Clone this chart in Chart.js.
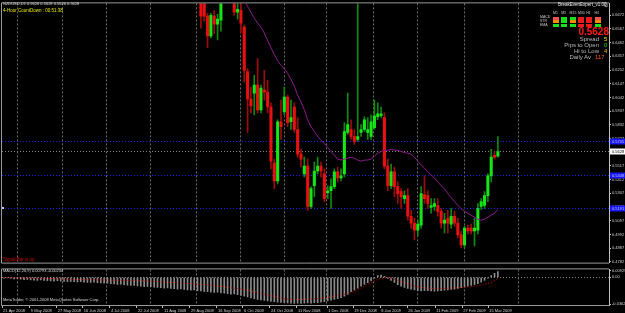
<!DOCTYPE html>
<html>
<head>
<meta charset="utf-8">
<script src="https://cdn.jsdelivr.net/npm/chart.js@4.4.1/dist/chart.umd.min.js"></script>
<style>
  html, body { margin: 0; padding: 0; background: #000; }
  body { width: 625px; height: 313px; overflow: hidden; position: relative; font-family: 'Liberation Sans', Arial, sans-serif; }
  .pane { position: absolute; left: 0; width: 625px; }
  .t { position: absolute; white-space: nowrap; line-height: 1; }
  .cell { position: absolute; width: 6px; height: 3px; }
</style>
</head>
<body>
<div class="pane" style="top:0;height:266px"><canvas id="price"></canvas></div>
<div class="pane" style="top:266px;height:47px"><canvas id="macd"></canvas></div>

<div class="t" style="left:3px;top:2px;font-size:4px;color:#d8d8d8">NZDUSD,D1 0.5626 0.5628 0.5626 0.5628</div>
<div class="t" style="left:3px;top:9px;font-size:4.5px;color:#e6e600">4-Hour CountDown : 00:51:38</div>
<div class="t" style="left:3px;top:258px;font-size:4.5px;color:#d00000">Signal Bar is up</div>
<div class="t" style="left:3px;top:269px;font-size:4px;color:#d8d8d8">MACD(12,26,9) 0.00793 -0.00234</div>
<div class="t" style="left:3px;top:298px;font-size:4px;color:#d8d8d8">MetaTrader, © 2001-2008 MetaQuotes Software Corp.</div>

<div class="t" style="left:558px;top:3px;font-size:4.5px;color:#e8e8e8">BreakEvenExpert_v1.00</div>
<div class="t" style="left:603px;top:2px;font-size:6px;color:#e8e8e8">☺</div>
<div id="panel"></div>
<div class="t" style="right:16px;top:27px;font-size:10px;font-weight:bold;color:#ff1a1a">0.5628</div>
<div class="t" style="right:26px;top:36px;font-size:6px;color:#b8b8b8">Spread</div>
<div class="t" style="left:604px;top:36px;font-size:6px;color:#e6e600">5</div>
<div class="t" style="right:26px;top:42px;font-size:6px;color:#b8b8b8">Pips to Open</div>
<div class="t" style="left:604px;top:42px;font-size:6px;color:#20e020">0</div>
<div class="t" style="right:26px;top:48px;font-size:6px;color:#b8b8b8">Hi to Low</div>
<div class="t" style="left:604px;top:48px;font-size:6px;color:#e6c000">4</div>
<div class="t" style="right:34px;top:54px;font-size:6px;color:#b8b8b8">Daily Av</div>
<div class="t" style="left:595px;top:54px;font-size:6px;color:#ff5a10">117</div>

<script>
// daily candles, index 0 = first bar visible at top of chart
const opens  = [0.6816,0.6763,0.6665,0.6513,0.6665,0.6604,0.6634,0.6793,0.6860,0.6830,
                0.6800,0.6695,0.6710,0.6581,0.6241,0.6030,0.6075,0.6136,0.5947,0.6098,
                0.6083,0.5969,0.5539,0.5403,0.5856,0.5932,0.6045,0.5856,0.5969,0.5796,
                0.5607,0.5456,0.5516,0.5207,0.5365,0.5478,0.5516,0.5456,0.5312,0.5327,
                0.5358,0.5471,0.5426,0.5456,0.5773,0.5796,0.5743,0.5720,0.5773,0.5796,
                0.5773,0.5743,0.5811,0.5894,0.5902,0.5887,0.5516,0.5365,0.5471,0.5358,
                0.5320,0.5267,0.5289,0.5131,0.5078,0.5025,0.5063,0.5297,0.5289,0.5199,
                0.5207,0.5214,0.5169,0.5078,0.5116,0.5071,0.5131,0.5078,0.4988,0.4912,
                0.5040,0.5040,0.5018,0.5025,0.5207,0.5214,0.5289,0.5441,0.5599,0.5592];
const highs  = [0.6853,0.6816,0.6687,0.6687,0.6710,0.6680,0.6853,0.6890,0.6900,0.6870,
                0.6838,0.6778,0.6778,0.6597,0.6264,0.6121,0.6211,0.6340,0.6136,0.6249,
                0.6173,0.6000,0.5569,0.5871,0.6022,0.6121,0.6060,0.6022,0.6000,0.5887,
                0.5645,0.5584,0.5569,0.5358,0.5546,0.5584,0.5546,0.5494,0.5365,0.5418,
                0.5494,0.5509,0.5494,0.5849,0.6075,0.5871,0.5796,0.6816,0.5834,0.5894,
                0.5887,0.5909,0.6022,0.6000,0.5969,0.5924,0.5569,0.5531,0.5509,0.5395,
                0.5343,0.5327,0.5343,0.5176,0.5116,0.5101,0.5358,0.5441,0.5327,0.5267,
                0.5267,0.5267,0.5191,0.5154,0.5176,0.5191,0.5169,0.5116,0.5018,0.5055,
                0.5063,0.5071,0.5116,0.5229,0.5267,0.5320,0.5456,0.5645,0.5628,0.5743];
const lows   = [0.6574,0.6627,0.6423,0.6498,0.6529,0.6483,0.6551,0.6790,0.6800,0.6790,
                0.6672,0.6642,0.6536,0.6158,0.5773,0.5924,0.5909,0.5924,0.5924,0.6022,
                0.5924,0.5494,0.5343,0.5380,0.5720,0.5909,0.5818,0.5796,0.5773,0.5584,
                0.5509,0.5433,0.5176,0.5191,0.5282,0.5456,0.5433,0.5244,0.5267,0.5191,
                0.5343,0.5395,0.5403,0.5433,0.5758,0.5720,0.5682,0.5705,0.5743,0.5781,
                0.5720,0.5720,0.5796,0.5871,0.5887,0.5494,0.5327,0.5343,0.5282,0.5229,
                0.5191,0.5229,0.5101,0.5040,0.4950,0.4980,0.5040,0.5229,0.5191,0.5154,
                0.5176,0.5131,0.5040,0.5003,0.5003,0.5040,0.5055,0.4965,0.4889,0.4889,
                0.4995,0.4995,0.4904,0.4995,0.5184,0.5191,0.5244,0.5395,0.5569,0.5584];
const closes = [0.6665,0.6665,0.6513,0.6672,0.6604,0.6642,0.6793,0.6860,0.6830,0.6805,
                0.6695,0.6717,0.6612,0.6249,0.6030,0.5977,0.6136,0.5947,0.6113,0.6083,
                0.5969,0.5554,0.5403,0.5856,0.5818,0.6045,0.5849,0.5887,0.5796,0.5607,
                0.5569,0.5516,0.5207,0.5343,0.5478,0.5516,0.5478,0.5267,0.5327,0.5358,
                0.5471,0.5426,0.5441,0.5781,0.5834,0.5743,0.5705,0.5743,0.5796,0.5871,
                0.5796,0.5856,0.5902,0.5917,0.5917,0.5516,0.5365,0.5471,0.5358,0.5305,
                0.5282,0.5289,0.5131,0.5078,0.5025,0.5071,0.5305,0.5267,0.5229,0.5214,
                0.5229,0.5169,0.5078,0.5101,0.5078,0.5131,0.5078,0.4988,0.4912,0.5040,
                0.5018,0.5018,0.5040,0.5191,0.5244,0.5289,0.5441,0.5584,0.5584,0.5628];
// moving average (null where it is above the window)
const maLine = [null,null,null,null,null,null,null,null,null,null,
                null,0.6884,0.6838,0.6793,0.6740,0.6695,0.6649,0.6612,0.6581,0.6536,
                0.6476,0.6423,0.6370,0.6325,0.6287,0.6264,0.6226,0.6181,0.6128,0.6060,
                0.6007,0.5947,0.5871,0.5818,0.5781,0.5743,0.5713,0.5690,0.5660,0.5628,
                0.5599,0.5569,0.5562,0.5569,0.5577,0.5584,0.5577,0.5562,0.5554,0.5562,
                0.5562,0.5569,0.5592,0.5614,0.5628,0.5637,0.5637,0.5645,0.5637,0.5637,
                0.5628,0.5620,0.5614,0.5607,0.5584,0.5554,0.5524,0.5501,0.5471,0.5448,
                0.5426,0.5395,0.5365,0.5343,0.5305,0.5275,0.5244,0.5214,0.5191,0.5169,
                0.5154,0.5139,0.5124,0.5108,0.5101,0.5108,0.5124,0.5139,0.5154,0.5184];

// MACD pane covers the whole window, starting 60 bars before the first visible candle
const macdStart = -60;
const macdMain = [-0.0005,-0.0010,-0.0008,-0.0015,-0.0020,-0.0018,-0.0025,-0.0030,-0.0028,-0.0035,-0.0038,-0.0040,-0.0036,-0.0042,-0.0045,
                  -0.0048,-0.0050,-0.0046,-0.0052,-0.0055,-0.0058,-0.0054,-0.0060,-0.0062,-0.0058,-0.0065,-0.0068,-0.0070,-0.0066,-0.0072,
                  -0.0075,-0.0080,-0.0078,-0.0085,-0.0090,-0.0095,-0.0092,-0.0100,-0.0105,-0.0110,-0.0108,-0.0115,-0.0120,-0.0125,-0.0122,
                  -0.0128,-0.0132,-0.0135,-0.0140,-0.0145,-0.0142,-0.0150,-0.0155,-0.0160,-0.0158,-0.0165,-0.0170,-0.0175,-0.0172,-0.0180,
                  -0.0185,-0.0190,-0.0195,-0.0200,-0.0205,-0.0200,-0.0210,-0.0215,-0.0222,-0.0228,-0.0225,-0.0235,-0.0245,-0.0255,-0.0265,
                  -0.0280,-0.0290,-0.0298,-0.0305,-0.0312,-0.0318,-0.0325,-0.0330,-0.0336,-0.0340,-0.0345,-0.0348,-0.0350,-0.0352,-0.0350,
                  -0.0352,-0.0350,-0.0348,-0.0350,-0.0345,-0.0342,-0.0338,-0.0330,-0.0320,-0.0310,-0.0300,-0.0290,-0.0275,-0.0255,-0.0230,
                  -0.0195,-0.0170,-0.0145,-0.0120,-0.0095,-0.0072,-0.0045,-0.0010,0.0025,0.0032,0.0015,-0.0015,-0.0040,-0.0070,-0.0100,
                  -0.0120,-0.0135,-0.0150,-0.0160,-0.0170,-0.0180,-0.0185,-0.0180,-0.0182,-0.0185,-0.0186,-0.0184,-0.0180,-0.0175,-0.0170,
                  -0.0165,-0.0160,-0.0150,-0.0140,-0.0130,-0.0120,-0.0110,-0.0100,-0.0085,-0.0065,-0.0040,-0.0010,0.0025,0.0055,0.0079];
const macdSignal = [0.0000,-0.0001,-0.0003,-0.0004,-0.0004,-0.0006,-0.0007,-0.0009,-0.0010,-0.0010,-0.0012,-0.0013,-0.0015,-0.0016,-0.0016,
                    -0.0018,-0.0019,-0.0021,-0.0022,-0.0022,-0.0024,-0.0025,-0.0027,-0.0027,-0.0028,-0.0030,-0.0031,-0.0032,-0.0032,-0.0034,
                    -0.0035,-0.0036,-0.0036,-0.0038,-0.0039,-0.0040,-0.0040,-0.0041,-0.0043,-0.0044,-0.0044,-0.0046,-0.0047,-0.0049,-0.0050,
                    -0.0052,-0.0055,-0.0057,-0.0060,-0.0063,-0.0065,-0.0068,-0.0071,-0.0074,-0.0076,-0.0079,-0.0082,-0.0085,-0.0088,-0.0091,
                    -0.0095,-0.0099,-0.0104,-0.0108,-0.0113,-0.0118,-0.0123,-0.0128,-0.0134,-0.0140,-0.0146,-0.0152,-0.0159,-0.0166,-0.0175,
                    -0.0185,-0.0196,-0.0207,-0.0218,-0.0229,-0.0240,-0.0248,-0.0258,-0.0268,-0.0278,-0.0290,-0.0296,-0.0300,-0.0301,-0.0300,
                    -0.0298,-0.0296,-0.0295,-0.0293,-0.0290,-0.0287,-0.0282,-0.0277,-0.0272,-0.0265,-0.0257,-0.0248,-0.0238,-0.0228,-0.0218,
                    -0.0206,-0.0188,-0.0168,-0.0145,-0.0120,-0.0095,-0.0072,-0.0050,-0.0030,-0.0012,-0.0004,-0.0005,-0.0010,-0.0025,-0.0040,
                    -0.0057,-0.0072,-0.0088,-0.0103,-0.0116,-0.0127,-0.0136,-0.0142,-0.0146,-0.0150,-0.0152,-0.0152,-0.0151,-0.0150,-0.0148,
                    -0.0146,-0.0144,-0.0141,-0.0138,-0.0135,-0.0131,-0.0126,-0.0120,-0.0113,-0.0105,-0.0096,-0.0085,-0.0070,-0.0048,-0.0023];

const priceTicks = [0.6672,0.6567,0.6462,0.6357,0.6252,0.6147,0.6042,0.5937,0.5832,0.5727,
                    0.5622,0.5517,0.5412,0.5307,0.5202,0.5097,0.4992,0.4887,0.4782];
const macdTicks = [0.00929, 0, -0.03622];
const macdTickText = ['0.00929', '0.00', '-0.03622'];
const blueLevels = [0.5705, 0.5448, 0.5191];
const lastPrice = 0.5628;
const gridPos = [-54.9,-41.4,-28.2,-15.0,-1.2,12.0,25.2,37.5,51.6,64.8,78.9,95.1];
const dateLabels = ['21 Apr 2008','9 May 2008','27 May 2008','16 Jun 2008','4 Jul 2008','22 Jul 2008',
                    '11 Aug 2008','29 Aug 2008','16 Sep 2008','6 Oct 2008','24 Oct 2008','11 Nov 2008',
                    '1 Dec 2008','19 Dec 2008','8 Jan 2009','26 Jan 2009','11 Feb 2009','27 Feb 2009','15 Mar 2009'];
const datePos = [-59.6,-51.3,-43.2,-35.4,-27.3,-19.2,-11.4,-3.3,4.8,12.6,20.7,28.8,37.8,45.6,53.7,61.8,70.2,78.3,86.1];

// signal panel (BreakEvenExpert)
const tfNames = ['M1','M5','M15','M30','H1','H4'];
const rowNames = ['MACD','STR','EMA'];
const tfCells = [['#f05050','#f08c00','#18e018'],['#18e018','#18e018','#18e018'],['#18e018','#f08c00','#18e018'],
                 ['#e81c1c','#e81c1c','#e81c1c'],['#e81c1c','#e81c1c','#e81c1c'],['#f05050','#f08c00','#18e018']];

const X_MIN = -59.6, X_MAX = 122.3;
const FONT = "'Liberation Sans', Arial, sans-serif";
const BULL = '#16e616', BEAR = '#e81010', BULL_W = '#0c8c0c', BEAR_W = '#a00c0c';
const gridGray = '#6c6c6c', frameGray = '#9a9a9a';

const panel = document.getElementById('panel');
tfNames.forEach((n, c) => {
  const x = 553 + c * 8.3;
  panel.insertAdjacentHTML('beforeend', `<div class="t" style="left:${x}px;top:11.5px;font-size:3.5px;color:#c8c8c8">${n}</div>`);
  tfCells[c].forEach((col, r) => {
    panel.insertAdjacentHTML('beforeend', `<div class="cell" style="left:${x}px;top:${16.5 + r * 3.8}px;background:${col}"></div>`);
  });
});
rowNames.forEach((n, r) => {
  panel.insertAdjacentHTML('beforeend', `<div class="t" style="left:540px;top:${16 + r * 3.8}px;font-size:3.5px;color:#c8c8c8">${n}</div>`);
});

const up = i => closes[i] >= opens[i];

const frame = {
  id: 'frame',
  afterDraw(chart) {
    const { ctx, chartArea: a } = chart;
    ctx.save();
    ctx.strokeStyle = frameGray;
    ctx.lineWidth = 1;
    ctx.beginPath();
    ctx.moveTo(a.left - 0.5, a.top - 0.5); ctx.lineTo(a.right, a.top - 0.5);
    ctx.moveTo(a.left - 0.5, a.top - 0.5); ctx.lineTo(a.left - 0.5, a.bottom + 0.5);
    ctx.moveTo(a.left - 0.5, a.bottom + 0.5); ctx.lineTo(a.right, a.bottom + 0.5);
    ctx.stroke();
    ctx.restore();
  }
};

const levels = {
  id: 'levels',
  beforeDatasetsDraw(chart) {
    const { ctx, chartArea: a, scales: { y } } = chart;
    ctx.save();
    ctx.lineWidth = 1;
    ctx.setLineDash([1, 2]);
    blueLevels.forEach(v => {
      const py = Math.round(y.getPixelForValue(v)) + 0.5;
      ctx.strokeStyle = '#2020d8';
      ctx.beginPath(); ctx.moveTo(a.left, py); ctx.lineTo(a.right, py); ctx.stroke();
    });
    const pl = Math.round(y.getPixelForValue(lastPrice)) + 0.5;
    ctx.strokeStyle = '#808080';
    ctx.beginPath(); ctx.moveTo(a.left, pl); ctx.lineTo(a.right, pl); ctx.stroke();
    ctx.restore();
  },
  afterDraw(chart) {
    const { ctx, chartArea: a, scales: { y } } = chart;
    ctx.save();
    ctx.font = `4px ${FONT}`;
    ctx.textBaseline = 'middle';
    const tag = (v, bg, fg) => {
      const py = Math.round(y.getPixelForValue(v)) + 0.5;
      ctx.fillStyle = bg;
      ctx.fillRect(a.right + 1, py - 3, 15, 6);
      ctx.fillStyle = fg;
      ctx.fillText(v.toFixed(4), a.right + 3, py);
    };
    blueLevels.forEach(v => tag(v, '#1818f0', '#c0c0ff'));
    tag(lastPrice, '#ffffff', '#000000');
    const pb = Math.round(y.getPixelForValue(blueLevels[2]));
    ctx.fillStyle = '#c8c8ff';
    ctx.fillRect(a.left, pb - 1, 2, 2);
    ctx.restore();
  }
};

const zeroLine = {
  id: 'zeroLine',
  beforeDatasetsDraw(chart) {
    const { ctx, chartArea: a, scales: { y } } = chart;
    const py = Math.round(y.getPixelForValue(0)) + 0.5;
    ctx.save();
    ctx.strokeStyle = '#808080';
    ctx.setLineDash([1, 2]);
    ctx.beginPath(); ctx.moveTo(a.left, py); ctx.lineTo(a.right, py); ctx.stroke();
    ctx.restore();
  }
};

const gridX = {
  type: 'linear', min: X_MIN, max: X_MAX, offset: false,
  afterBuildTicks: s => { s.ticks = gridPos.map(v => ({ value: v })); },
  afterFit: s => { s.height = 0; },
  ticks: { display: false },
  grid: { color: gridGray, offset: false, drawTicks: false, lineWidth: 1 },
  border: { display: false, dash: [2, 2] }
};

new Chart(document.getElementById('price'), {
  type: 'bar',
  data: {
    datasets: [
      {
        type: 'line', label: 'MA', order: 0, clip: 0,
        data: maLine.map((v, i) => ({ x: i, y: v })),
        borderColor: '#8c1a8c', borderWidth: 1, pointRadius: 0, spanGaps: false
      },
      {
        label: 'body', order: 1, clip: 0, grouped: false,
        data: opens.map((o, i) => ({ x: i, y: [o, closes[i]] })),
        backgroundColor: c => up(c.dataIndex) ? BULL : BEAR,
        barThickness: 2.4, minBarLength: 1, borderWidth: 0
      },
      {
        label: 'wick', order: 2, clip: 0, grouped: false,
        data: highs.map((h, i) => ({ x: i, y: [lows[i], h] })),
        backgroundColor: c => up(c.dataIndex) ? BULL_W : BEAR_W,
        barThickness: 1, borderWidth: 0
      }
    ]
  },
  options: {
    responsive: true, maintainAspectRatio: false, animation: false, events: [],
    layout: { padding: { left: 2, top: 2, right: 0, bottom: 1 } },
    plugins: { legend: { display: false }, tooltip: { enabled: false } },
    scales: {
      x: gridX,
      y: {
        position: 'right', min: 0.4776, max: 0.6763,
        afterBuildTicks: s => { s.ticks = priceTicks.map(v => ({ value: v })); },
        afterFit: s => { s.width = 16; },
        ticks: { color: '#d0d0d0', font: { size: 4, family: FONT }, padding: 1, callback: v => v.toFixed(4) },
        grid: { drawOnChartArea: false, drawTicks: true, tickLength: 2, color: '#c0c0c0' },
        border: { display: true, color: '#c0c0c0', width: 1 }
      }
    }
  },
  plugins: [frame, levels]
});

new Chart(document.getElementById('macd'), {
  type: 'bar',
  data: {
    datasets: [
      {
        type: 'line', label: 'Signal', order: 0, clip: 0,
        data: macdSignal.map((v, k) => ({ x: macdStart + k, y: v })),
        borderColor: '#e00000', borderWidth: 1, borderDash: [1, 2], pointRadius: 0
      },
      {
        label: 'MACD', order: 1, clip: 0,
        data: macdMain.map((v, k) => ({ x: macdStart + k, y: v })),
        backgroundColor: '#8c8c8c', barThickness: 1, borderWidth: 0
      }
    ]
  },
  options: {
    responsive: true, maintainAspectRatio: false, animation: false, events: [],
    layout: { padding: { left: 2, top: 1, right: 0, bottom: 0 } },
    plugins: { legend: { display: false }, tooltip: { enabled: false } },
    scales: {
      x: gridX,
      xd: {
        type: 'linear', position: 'bottom', min: X_MIN, max: X_MAX, offset: false,
        afterBuildTicks: s => { s.ticks = datePos.map(v => ({ value: v })); },
        afterFit: s => { s.height = 8; },
        ticks: {
          color: '#d0d0d0', font: { size: 4, family: FONT }, padding: 0, align: 'start',
          autoSkip: false, maxRotation: 0, minRotation: 0,
          callback: (v, i) => ' ' + dateLabels[i]
        },
        grid: { drawOnChartArea: false, drawTicks: true, tickLength: 3, color: '#c0c0c0', offset: false },
        border: { display: true, color: frameGray }
      },
      y: {
        position: 'right', min: -0.0375, max: 0.0108,
        afterBuildTicks: s => { s.ticks = macdTicks.map(v => ({ value: v })); },
        afterFit: s => { s.width = 16; },
        ticks: { color: '#d0d0d0', font: { size: 4, family: FONT }, padding: 1, callback: (v, i) => macdTickText[i] },
        grid: { drawOnChartArea: false, drawTicks: true, tickLength: 2, color: '#c0c0c0' },
        border: { display: true, color: '#c0c0c0', width: 1 }
      }
    }
  },
  plugins: [frame, zeroLine]
});
</script>
</body>
</html>
